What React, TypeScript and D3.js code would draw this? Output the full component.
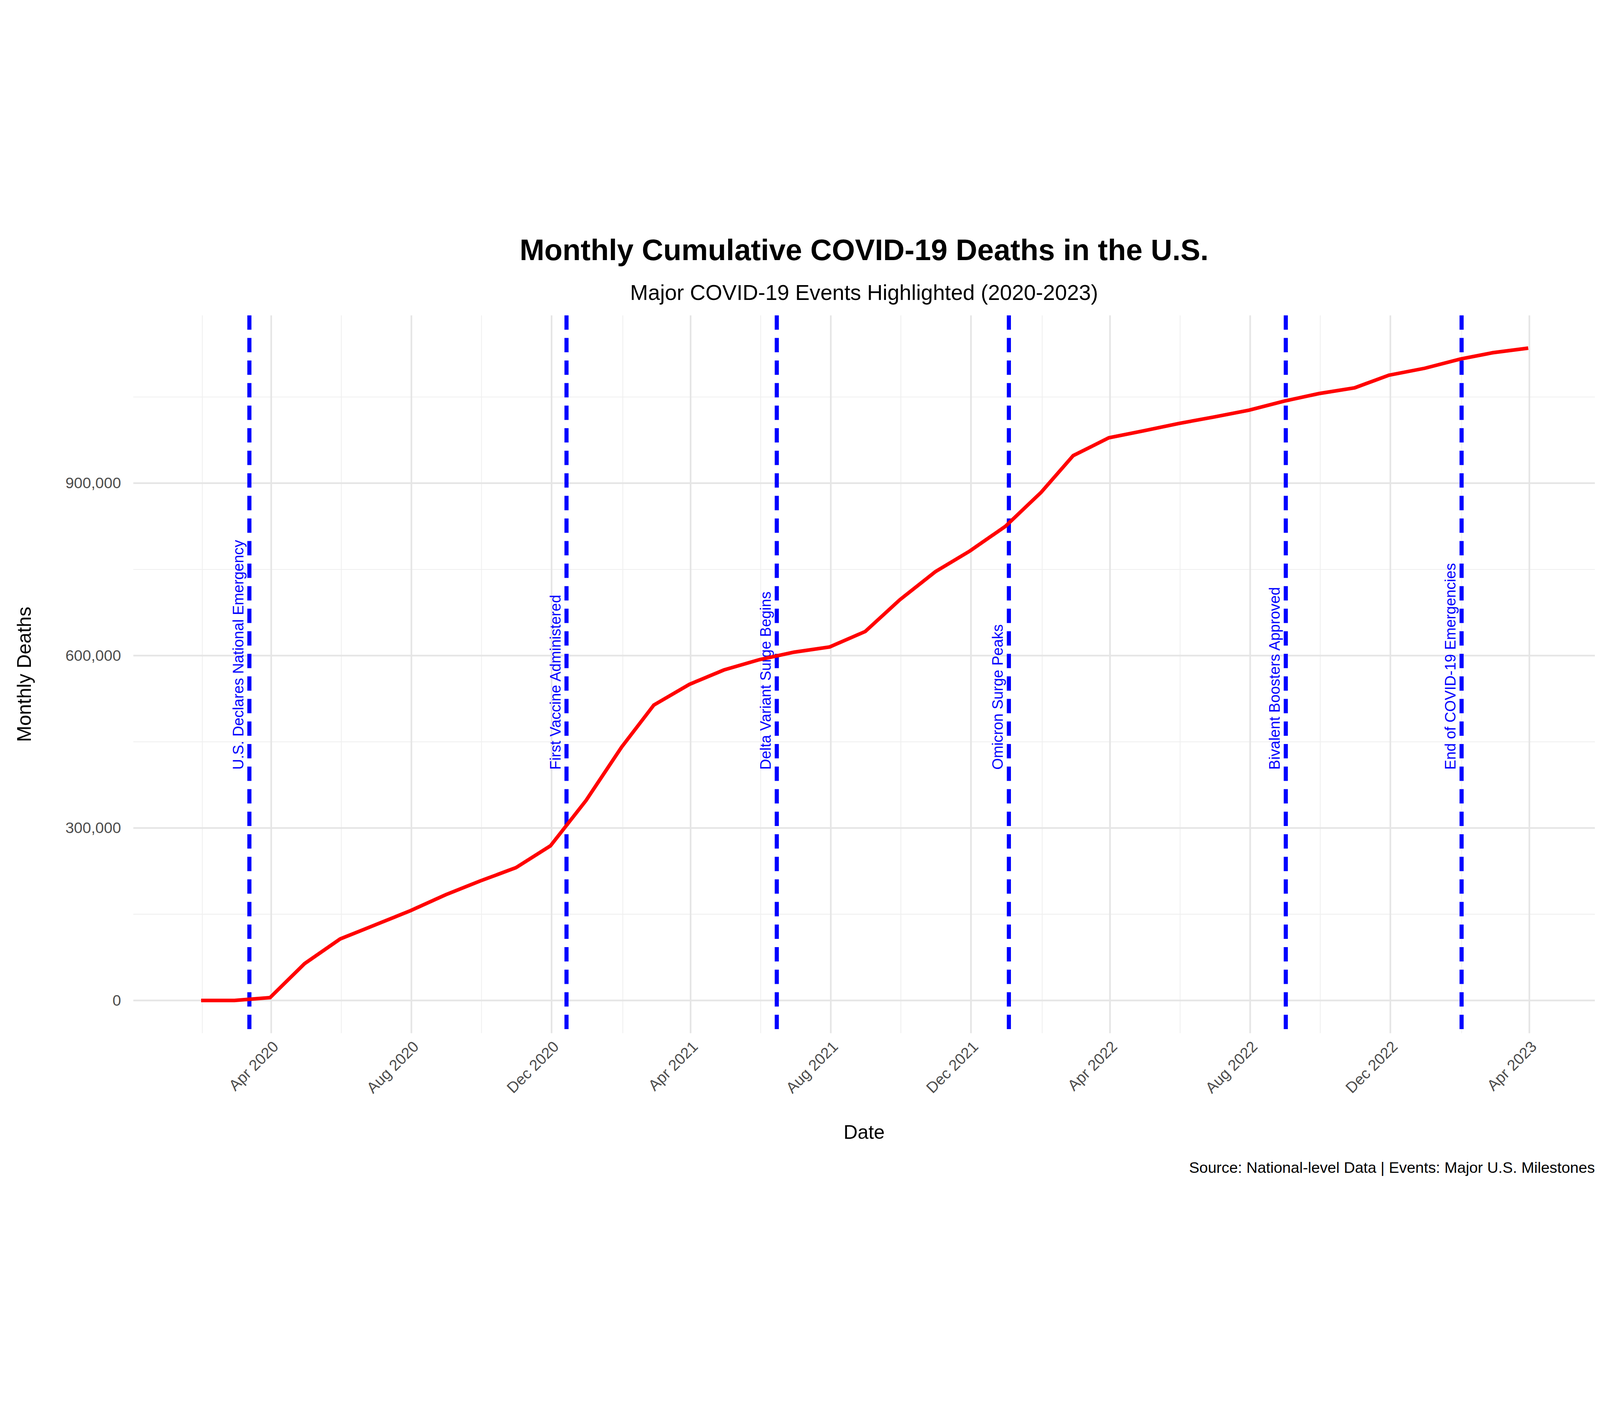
import React from 'react';
import * as d3 from 'd3';

// monthly cumulative deaths (thousands), end of each month Jan 2020 - Mar 2023
const deaths = [0, 0, 5, 64, 107, 131, 156, 184, 208, 231, 269, 348, 441, 514, 550, 575, 593, 606, 615, 642, 697, 746, 782, 825, 884, 948, 979, 991, 1004, 1015, 1027, 1043, 1056, 1066, 1088, 1100, 1116, 1127, 1135];
const eventDates = ['2020-03-13', '2020-12-14', '2021-06-15', '2022-01-03', '2022-09-01', '2023-02-01'];
const eventLabels = ['U.S. Declares National Emergency', 'First Vaccine Administered', 'Delta Variant Surge Begins', 'Omicron Surge Peaks', 'Bivalent Boosters Approved', 'End of COVID-19 Emergencies'];
const yTicks = [0, 300000, 600000, 900000];

const W = 1560, H = 936;
const mL = 130, mR = 1555, mT = 90, mB = 790;

const App = () => {
  const dates = deaths.map((_, i) => new Date(2020, i + 1, 0));
  const values = deaths.map(d => d * 1000);
  const x = d3.scaleTime().domain([new Date(2019, 11, 3), new Date(2023, 4, 28)]).range([mL, mR]);
  const y = d3.scaleLinear().domain([-57000, 1192000]).range([mB, mT]);
  const line = d3.line<number>().x((_, i) => x(dates[i])).y(d => y(d));
  const majorX = d3.timeMonth.range(new Date(2020, 3, 1), new Date(2023, 4, 1), 4);
  const minorX = d3.timeMonth.range(new Date(2020, 1, 1), new Date(2023, 5, 1), 4);
  const minorY = [150000, 450000, 750000, 1050000];
  const fmt = d3.timeFormat('%b %Y');
  const font = 'Arial, Liberation Sans, sans-serif';

  return (
    <svg viewBox={`0 0 ${W} ${H}`} style={{ position: 'absolute', left: 0, top: 0, width: '100vw', height: '100vh', background: 'white' }} fontFamily={font}>
      {minorY.map(v => <line key={'my' + v} x1={mL} x2={mR} y1={y(v)} y2={y(v)} stroke="#efefef" strokeWidth={0.8} />)}
      {minorX.map(d => <line key={'mx' + +d} x1={x(d)} x2={x(d)} y1={mT} y2={mB} stroke="#efefef" strokeWidth={0.8} />)}
      {yTicks.map(v => <line key={'gy' + v} x1={mL} x2={mR} y1={y(v)} y2={y(v)} stroke="#e5e5e5" strokeWidth={1.6} />)}
      {majorX.map(d => <line key={'gx' + +d} x1={x(d)} x2={x(d)} y1={mT} y2={mB} stroke="#e5e5e5" strokeWidth={1.6} />)}

      {eventDates.map((s, i) => {
        const ex = x(d3.timeParse('%Y-%m-%d')(s)!);
        return (
          <g key={s}>
            <line x1={ex} x2={ex} y1={mT} y2={mB} stroke="blue" strokeWidth={4} strokeDasharray="14,8" />
            <text transform={`translate(${ex - 6},533) rotate(-90)`} fontSize={14.5} fill="blue">{eventLabels[i]}</text>
          </g>
        );
      })}

      <path d={line(values)!} fill="none" stroke="red" strokeWidth={3.5} />

      {yTicks.map(v => (
        <text key={'yt' + v} x={mL - 12} y={y(v) + 5} textAnchor="end" fontSize={15} fill="#4d4d4d">{d3.format(',')(v)}</text>
      ))}
      {majorX.map(d => (
        <text key={'xt' + +d} transform={`translate(${x(d) + 8},${mB + 14}) rotate(-45)`} textAnchor="end" fontSize={15} fill="#4d4d4d">{fmt(d)}</text>
      ))}

      <text x={(mL + mR) / 2} y={36} textAnchor="middle" fontSize={29} fontWeight="bold">Monthly Cumulative COVID-19 Deaths in the U.S.</text>
      <text x={(mL + mR) / 2} y={75} textAnchor="middle" fontSize={21}>Major COVID-19 Events Highlighted (2020-2023)</text>
      <text x={(mL + mR) / 2} y={893} textAnchor="middle" fontSize={19}>Date</text>
      <text transform={`translate(30,${(mT + mB) / 2}) rotate(-90)`} textAnchor="middle" fontSize={19}>Monthly Deaths</text>
      <text x={mR} y={926} textAnchor="end" fontSize={15}>Source: National-level Data | Events: Major U.S. Milestones</text>
    </svg>
  );
};

export default App;
